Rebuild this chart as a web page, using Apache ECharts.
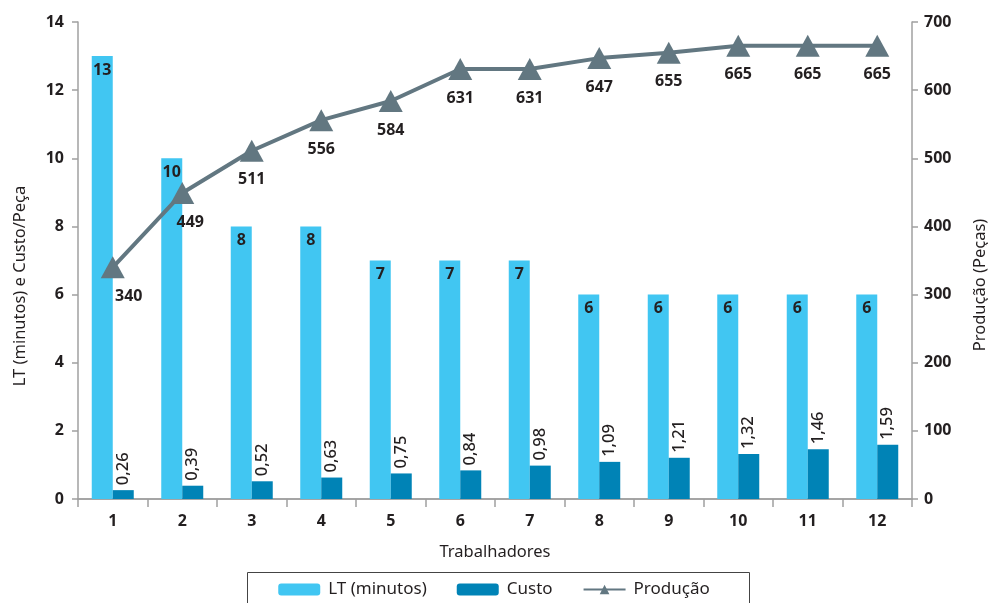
<!DOCTYPE html>
<html><head><meta charset="utf-8">
<script src="https://cdn.jsdelivr.net/npm/echarts@6/dist/echarts.min.js"></script>
<style>html,body{margin:0;padding:0;background:#fff}#c{width:988px;height:603px}</style>
</head><body><div id="c"></div>
<script>
var categories = ['1','2','3','4','5','6','7','8','9','10','11','12'];
var ltValues = [13,10,8,8,7,7,7,6,6,6,6,6];
var custoValues = [0.26,0.39,0.52,0.63,0.75,0.84,0.98,1.09,1.21,1.32,1.46,1.59];
var producaoValues = [340,449,511,556,584,631,631,647,655,665,665,665];
var leftTitle = 'LT (minutos) e Custo/Peça';
var rightTitle = 'Produção (Peças)';
var xTitle = 'Trabalhadores';

var FONT = '"Noto Sans", "Open Sans", sans-serif';
var TXT = '#231f20';
var AX = '#a0a0a0';
var chart = echarts.init(document.getElementById('c'));
var prodData = producaoValues.map(function(v,i){
  var d = {value: v};
  if (i === 0) d.label = {offset:[16,0]};
  if (i === 1) d.label = {offset:[8,0]};
  return d;
});
chart.setOption({
  animation:false,
  textStyle:{fontFamily:FONT},
  grid:{left:78,right:76,top:22,bottom:104,containLabel:false,outerBoundsMode:'none'},
  graphic:[
    {type:'rect',left:245,top:570,shape:{width:502,height:40},style:{fill:'none',stroke:'#444',lineWidth:1}},
    {type:'text',x:20,y:286,rotation:Math.PI/2,style:{text:leftTitle,font:'16.5px '+FONT,fill:TXT,align:'center',verticalAlign:'middle'}},
    {type:'text',x:980,y:285,rotation:Math.PI/2,style:{text:rightTitle,font:'16.5px '+FONT,fill:TXT,align:'center',verticalAlign:'middle'}}
  ],
  legend:{top:576,left:'center',itemWidth:42,itemHeight:12,itemGap:30,
    textStyle:{fontFamily:FONT,fontSize:17,color:TXT,padding:[0,0,0,3]},
    data:['LT (minutos)','Custo','Produção']},
  xAxis:[{type:'category',data:categories,
    name:xTitle,nameLocation:'middle',nameGap:45,
    nameTextStyle:{fontFamily:FONT,fontSize:16.5,color:TXT},
    axisLine:{lineStyle:{color:AX,width:1.5}},
    axisTick:{show:true,length:8,lineStyle:{color:AX,width:1.5}},
    axisLabel:{fontFamily:FONT,fontSize:16,fontWeight:'bold',color:TXT,margin:14}},
   {type:'category',data:categories,position:'top',
    axisLine:{show:true,lineStyle:{color:AX,width:1.5}},
    axisTick:{show:false},axisLabel:{show:false},splitLine:{show:false}}],
  yAxis:[{type:'value',min:0,max:14,interval:2,
    axisLine:{show:true,lineStyle:{color:AX,width:1.5}},
    axisTick:{show:true,length:6,lineStyle:{color:AX,width:1.5}},
    splitLine:{show:false},
    axisLabel:{fontFamily:FONT,fontSize:16,fontWeight:'bold',color:TXT,margin:14}},
   {type:'value',min:0,max:700,interval:100,position:'right',
    axisLine:{show:true,lineStyle:{color:AX,width:1.5}},
    axisTick:{show:true,length:6,lineStyle:{color:AX,width:1.5}},
    splitLine:{show:false},
    axisLabel:{fontFamily:FONT,fontSize:16,fontWeight:'bold',color:TXT,margin:12}}],
  series:[
   {name:'LT (minutos)',type:'bar',data:ltValues,barWidth:21,barGap:'0%',
    itemStyle:{color:'#41c6f2'},
    label:{show:true,position:'insideTop',distance:6,fontFamily:FONT,fontSize:16,fontWeight:'bold',color:TXT}},
   {name:'Custo',type:'bar',data:custoValues,barWidth:21,
    itemStyle:{color:'#0083b6'},
    label:{show:true,position:'top',rotate:90,align:'left',verticalAlign:'middle',distance:5,
      fontFamily:FONT,fontSize:16.5,fontWeight:500,color:TXT,
      formatter:function(p){return p.value.toFixed(2).replace('.',',');}}},
   {name:'Produção',type:'line',yAxisIndex:1,data:prodData,
    symbol:'triangle',symbolSize:[24,22],
    lineStyle:{color:'#627781',width:4},itemStyle:{color:'#627781'},
    label:{show:true,position:'bottom',distance:10,fontFamily:FONT,fontSize:16,fontWeight:'bold',color:TXT},
    z:5}
  ]
});
</script></body></html>
